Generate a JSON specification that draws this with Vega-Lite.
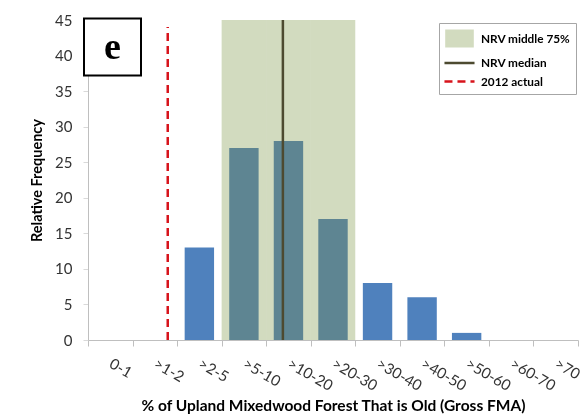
{
  "$schema": "https://vega.github.io/schema/vega-lite/v6.json",
  "width": 490,
  "height": 320,
  "autosize": {"type": "none"},
  "padding": {"left": 88, "top": 20, "right": 8, "bottom": 80},
  "background": "white",
  "config": {
    "font": "Lato",
    "view": {"stroke": null},
    "axisY": {
      "values": [0, 5, 10, 15, 20, 25, 30, 35, 40, 45],
      "tickSize": 5,
      "tickColor": "#D9D9D9",
      "domainColor": "#BFBFBF",
      "gridColor": "#D9D9D9",
      "labelPadding": 11,
      "labelFont": "Lato",
      "labelFontSize": 15,
      "labelColor": "#333333",
      "titleFont": "Lato",
      "titleFontSize": 14.5,
      "titleFontWeight": "bold",
      "titleColor": "#000000",
      "titlePadding": 10
    },
    "legend": {
      "orient": "none",
      "legendX": 351,
      "legendY": 3,
      "title": null,
      "padding": 5,
      "fillColor": "white",
      "strokeColor": "#A6A6A6",
      "labelFont": "Lato",
      "labelFontWeight": "bold",
      "labelFontSize": 11.8,
      "labelColor": "#000000",
      "symbolSize": 324,
      "rowPadding": 0.5,
      "symbolOffset": 5,
      "labelOffset": 11
    }
  },
  "datasets": {
    "freq": [
      {"cat": "0-1", "freq": 0},
      {"cat": ">1-2", "freq": 0},
      {"cat": ">2-5", "freq": 13},
      {"cat": ">5-10", "freq": 27},
      {"cat": ">10-20", "freq": 28},
      {"cat": ">20-30", "freq": 17},
      {"cat": ">30-40", "freq": 8},
      {"cat": ">40-50", "freq": 6},
      {"cat": ">50-60", "freq": 1},
      {"cat": ">60-70", "freq": 0},
      {"cat": ">70", "freq": 0}
    ],
    "nrv": [
      {"series": "NRV middle 75%", "cat": ">5-10"},
      {"series": "NRV middle 75%", "cat": ">10-20"},
      {"series": "NRV middle 75%", "cat": ">20-30"}
    ],
    "median": [{"series": "NRV median", "cat": ">10-20"}],
    "actual": [{"series": "2012 actual", "cat": ">1-2"}],
    "panel": [{"label": "e", "cat": "0-1"}]
  },
  "layer": [
    {
      "data": {"name": "nrv"},
      "mark": {"type": "bar", "blend": "multiply", "width": {"band": 1}},
      "encoding": {
        "x": {"field": "cat", "type": "nominal"},
        "y": {"datum": 45, "type": "quantitative", "axis": {"title": "Relative Frequency", "values": [0, 5, 10, 15, 20, 25, 30, 35, 40, 45]}},
        "y2": {"datum": 0},
        "color": {
          "field": "series",
          "type": "nominal",
          "scale": {
            "domain": ["NRV middle 75%", "NRV median", "2012 actual"],
            "range": ["#D2DBBF", "#4D4A30", "#D7131B"]
          },
          "legend": {
            "symbolType": {"expr": "datum.value === 'NRV middle 75%' ? 'M-1.45,-0.85H1.45V0.85H-1.45Z' : 'M-1.67,0H1.67'"},
            "symbolStrokeColor": {"expr": "datum.value === 'NRV middle 75%' ? '#D2DBBF' : (datum.value === 'NRV median' ? '#4D4A30' : '#D7131B')"},
            "symbolFillColor": {"expr": "datum.value === 'NRV middle 75%' ? '#D2DBBF' : 'transparent'"},
            "symbolDash": {"expr": "datum.value === '2012 actual' ? [8, 5] : [1, 0]"},
            "symbolStrokeWidth": 2.5,
            "symbolOpacity": 1
          }
        }
      }
    },
    {
      "data": {"name": "freq"},
      "mark": {"type": "bar", "width": {"band": 0.66}},
      "encoding": {
        "x": {
          "field": "cat",
          "type": "nominal",
          "sort": null,
          "scale": {
            "type": "band",
            "domain": ["0-1", ">1-2", ">2-5", ">5-10", ">10-20", ">20-30", ">30-40", ">40-50", ">50-60", ">60-70", ">70"],
            "paddingInner": 0,
            "paddingOuter": 0
          },
          "axis": {
            "title": "% of Upland Mixedwood Forest That is Old (Gross FMA)",
            "titleFont": "Lato",
            "titleFontSize": 15.5,
            "titleFontWeight": "bold",
            "titleColor": "#000000",
            "titleY": 70,
            "titleBaseline": "alphabetic",
            "domainColor": "#BFBFBF",
            "tickColor": "#BFBFBF",
            "tickSize": 6,
            "tickBand": "extent",
            "labelAngle": 30,
            "labelAlign": "left",
            "labelBaseline": "middle",
            "labelPadding": 16,
            "labelFont": "Lato",
            "labelFontSize": 15,
            "labelColor": "#333333",
            "grid": false
          }
        },
        "y": {
          "field": "freq",
          "type": "quantitative",
          "scale": {"domain": [0, 45], "nice": false},
          "axis": {"title": "Relative Frequency", "values": [0, 5, 10, 15, 20, 25, 30, 35, 40, 45]}
        },
        "color": {
          "condition": {"test": "indexof(['>5-10', '>10-20', '>20-30'], datum.cat) >= 0", "value": "#5E8592"},
          "value": "#4F81BD"
        }
      }
    },
    {
      "data": {"name": "median"},
      "mark": {"type": "rule", "strokeWidth": 2.5},
      "encoding": {
        "x": {"field": "cat", "type": "nominal", "bandPosition": 0.375},
        "y": {"datum": 0, "type": "quantitative", "axis": {"title": "Relative Frequency", "values": [0, 5, 10, 15, 20, 25, 30, 35, 40, 45]}},
        "y2": {"datum": 45},
        "color": {"field": "series", "type": "nominal"}
      }
    },
    {
      "data": {"name": "actual"},
      "mark": {"type": "rule", "strokeWidth": 2.5, "strokeDash": [8, 5]},
      "encoding": {
        "x": {"field": "cat", "type": "nominal", "bandPosition": 0.79},
        "y": {"datum": 0, "type": "quantitative", "axis": {"title": "Relative Frequency", "values": [0, 5, 10, 15, 20, 25, 30, 35, 40, 45]}},
        "y2": {"datum": 44},
        "color": {"field": "series", "type": "nominal"}
      }
    },
    {
      "data": {"name": "panel"},
      "mark": {"type": "point", "shape": "square", "size": 3249, "filled": true, "fill": "white", "stroke": "black", "strokeWidth": 2, "opacity": 1},
      "encoding": {
        "x": {"field": "cat", "type": "nominal", "bandPosition": 0.55},
        "y": {"datum": 41.2, "type": "quantitative", "axis": {"title": "Relative Frequency", "values": [0, 5, 10, 15, 20, 25, 30, 35, 40, 45]}}
      }
    },
    {
      "data": {"name": "panel"},
      "mark": {"type": "text", "font": "Liberation Serif", "fontWeight": "bold", "fontSize": 38, "align": "center", "baseline": "middle", "color": "black", "dy": 1},
      "encoding": {
        "x": {"field": "cat", "type": "nominal", "bandPosition": 0.55},
        "y": {"datum": 41.2, "type": "quantitative", "axis": {"title": "Relative Frequency", "values": [0, 5, 10, 15, 20, 25, 30, 35, 40, 45]}},
        "text": {"field": "label"}
      }
    }
  ]
}
